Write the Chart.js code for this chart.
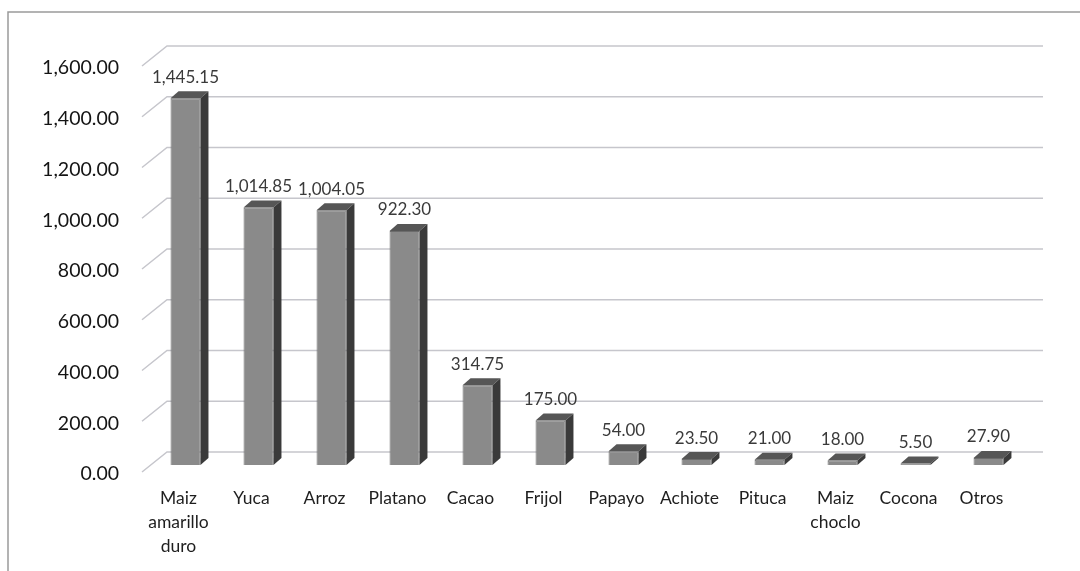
<!DOCTYPE html>
<html>
<head>
<meta charset="utf-8">
<script src="https://cdn.jsdelivr.net/npm/chart.js@4.4.1/dist/chart.umd.min.js"></script>
<style>
  html, body { margin: 0; padding: 0; background: #fff; }
  #wrap { position: relative; width: 1080px; height: 571px; }
</style>
</head>
<body>
<div id="wrap"><canvas id="cultivos" width="1080" height="571"></canvas></div>
<script>
var categorias = [["Maiz", "amarillo", "duro"], "Yuca", "Arroz", "Platano", "Cacao", "Frijol",
    "Papayo", "Achiote", "Pituca", ["Maiz", "choclo"], "Cocona", "Otros"];
var hectareas = [1445.15, 1014.85, 1004.05, 922.30, 314.75, 175.00, 54.00, 23.50, 21.00, 18.00, 5.50, 27.90];
var yMin = 0;
var yMax = 1600;
var yPaso = 200;

function formato(v) {
    return v.toLocaleString("en-US", { minimumFractionDigits: 2, maximumFractionDigits: 2 });
}

// profundidad de la pared del fondo y de las barras
var fondoDx = 25, fondoDy = -20;
var barraDx = 8, barraDy = -7;

var pared3d = {
    id: "pared3d",
    beforeDatasetsDraw: function (chart) {
        var ctx = chart.ctx;
        var y = chart.scales.y;
        var area = chart.chartArea;
        ctx.save();
        // marco
        ctx.strokeStyle = "#9a9a9a";
        ctx.lineWidth = 1.5;
        ctx.beginPath();
        ctx.moveTo(8, 571);
        ctx.lineTo(8, 12);
        ctx.lineTo(1080, 12);
        ctx.stroke();

        ctx.strokeStyle = "#c6c6cc";
        ctx.lineWidth = 1.5;
        y.ticks.forEach(function (t) {
            var py = y.getPixelForValue(t.value);
            var yFondo = py - 13;
            ctx.beginPath();
            ctx.moveTo(142, yFondo - fondoDy);
            ctx.lineTo(142 + fondoDx, yFondo);
            ctx.lineTo(area.right + 18, yFondo);
            ctx.stroke();
        });
        ctx.restore();
    },
    afterDatasetsDraw: function (chart) {
        var ctx = chart.ctx;
        var meta = chart.getDatasetMeta(0);
        ctx.save();
        meta.data.forEach(function (bar, i) {
            var w = bar.width;
            var izq = bar.x - w / 2, der = bar.x + w / 2;
            var arriba = bar.y, abajo = bar.base;

            // cara superior
            ctx.fillStyle = "#565656";
            ctx.beginPath();
            ctx.moveTo(izq, arriba);
            ctx.lineTo(der, arriba);
            ctx.lineTo(der + barraDx, arriba + barraDy);
            ctx.lineTo(izq + barraDx, arriba + barraDy);
            ctx.closePath();
            ctx.fill();

            // cara lateral
            ctx.fillStyle = "#3a3a3a";
            ctx.beginPath();
            ctx.moveTo(der, arriba);
            ctx.lineTo(der + barraDx, arriba + barraDy);
            ctx.lineTo(der + barraDx, abajo + barraDy);
            ctx.lineTo(der, abajo);
            ctx.closePath();
            ctx.fill();

            // etiqueta de valor
            ctx.fillStyle = "#3a3a3a";
            ctx.font = "17px Lato";
            ctx.textAlign = "center";
            ctx.textBaseline = "middle";
            ctx.fillText(formato(hectareas[i]), bar.x, arriba - 21);
        });
        ctx.restore();
    }
};

var ctx = document.getElementById("cultivos").getContext("2d");
var grafico = new Chart(ctx, {
    type: "bar",
    data: {
        labels: categorias,
        datasets: [{
            label: "Hectáreas",
            data: hectareas,
            backgroundColor: "#8a8a8a",
            borderColor: "#6c6c6c",
            borderWidth: 1,
            categoryPercentage: 1,
            barPercentage: 0.41
        }]
    },
    options: {
        responsive: false,
        animation: false,
        layout: { padding: { top: 59, right: 55, left: 0, bottom: 0 } },
        plugins: {
            legend: { display: false },
            tooltip: { enabled: false }
        },
        scales: {
            x: {
                grid: { display: false, drawTicks: false },
                border: { display: false },
                ticks: {
                    color: "#1e1e1e",
                    font: { family: "Lato", size: 17.5, lineHeight: 1.38 },
                    padding: 21,
                    labelOffset: -7,
                    maxRotation: 0,
                    autoSkip: false
                },
                afterFit: function (s) { s.height = 106; }
            },
            y: {
                min: yMin,
                max: yMax,
                grid: { display: false, drawTicks: false },
                border: { display: false },
                ticks: {
                    stepSize: yPaso,
                    color: "#141414",
                    font: { family: "Lato", size: 19.5 },
                    padding: 30,
                    labelOffset: 9,
                    callback: function (v) { return formato(v); }
                },
                afterFit: function (s) { s.width = 149; }
            }
        }
    },
    plugins: [pared3d]
});
</script>
</body>
</html>
